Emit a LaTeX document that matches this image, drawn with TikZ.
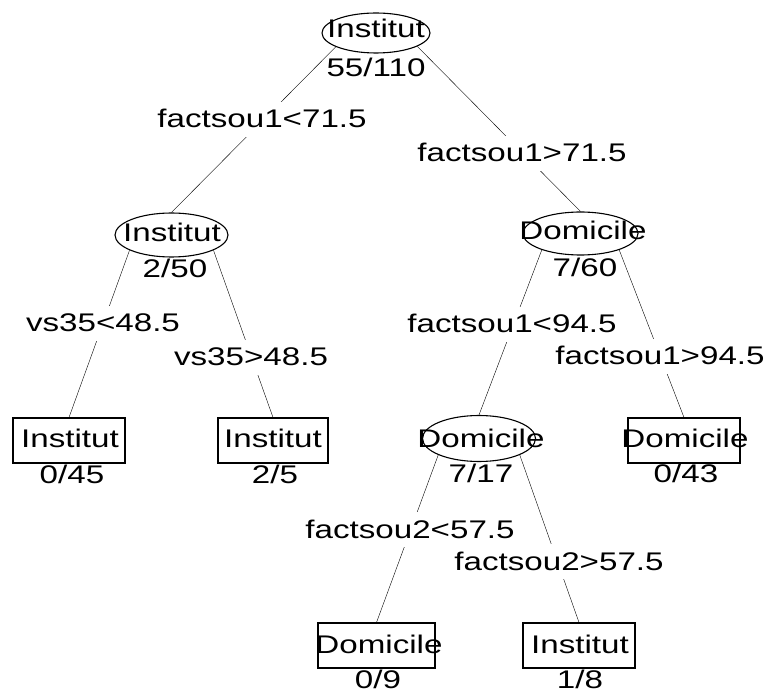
\documentclass[tikz,border=0pt]{standalone}
\usepackage{fontspec}
\setmainfont[FakeStretch=1.3]{Liberation Sans}
\usetikzlibrary{shapes.geometric}
\pgfdeclarelayer{bg}
\pgfsetlayers{bg,main}
\begin{document}
\begin{tikzpicture}[x=1pt, y=-1pt,
  font=\fontsize{25.5}{30}\selectfont,
  line width=1.1pt,
  inner/.style={ellipse, draw, fill=white, inner sep=0pt,
    minimum width=113pt, minimum height=44pt},
  leaf/.style={rectangle, draw, fill=white, inner sep=0pt,
    minimum width=112pt, minimum height=45pt},
  txt/.style={anchor=base, inner sep=0pt},
  cond/.style={anchor=base, fill=white, inner xsep=3pt, inner ysep=2pt,
    text height=24pt, text depth=7pt}]

\useasboundingbox (0,0) rectangle (771,692);

% decision nodes
\node[inner, minimum width=108pt, minimum height=40pt] (root) at (376,33) {};
\node[inner] (L)  at (171.5,235) {};
\node[inner, minimum width=115pt, minimum height=43pt] (R)  at (580.5,233.5) {};
\node[inner, minimum height=46pt] (RL) at (479,438.5) {};

% terminal nodes
\node[leaf] (LL)  at (69,440.5) {};
\node[leaf, minimum width=110pt] (LR)  at (273,440.5) {};
\node[leaf] (RR)  at (684,440.5) {};
\node[leaf, minimum width=117pt] (RLL) at (376.5,645.5) {};
\node[leaf] (RLR) at (579,645.5) {};

% branches
\begin{pgfonlayer}{bg}
  \fill[white] (0,0) rectangle (771,692);
  \draw (root.199) -- (L.north);
  \draw (root.342) -- (R.north);
  \draw (L.200) -- (LL.north);
  \draw (L.340) -- (LR.north);
  \draw (R.203) -- (RL.north);
  \draw (R.337) -- (RR.north);
  \draw (RL.202) -- (RLL.north);
  \draw (RL.338) -- (RLR.north);
\end{pgfonlayer}

% split conditions
\node[cond] (c1) at (262,128) {factsou1<71.5};
\node[cond] (c2) at (522,162) {factsou1>71.5};
\node[cond] (c3) at (103,332) {vs35<48.5};
\node[cond] (c4) at (251,366) {vs35>48.5};
\node[cond] (c5) at (512,333) {factsou1<94.5};
\node[cond] (c6) at (660,365) {factsou1>94.5};
\node[cond] (c7) at (410,538) {factsou2<57.5};
\node[cond] (c8) at (559,570) {factsou2>57.5};

% class labels and counts
\node[txt] (tRoot) at (376,38) {Institut};
\node[txt] (nRoot) at (376,77) {55/110};
\node[txt] (tL) at (172,242) {Institut};
\node[txt] (nL) at (175,278) {2/50};
\node[txt] (tR) at (583,240) {Domicile};
\node[txt] (nR) at (585,277) {7/60};
\node[txt] (tLL) at (70,447) {Institut};
\node[txt] (nLL) at (72,483) {0/45};
\node[txt] (tLR) at (273,447) {Institut};
\node[txt] (nLR) at (275,483) {2/5};
\node[txt] (tRL) at (481,447) {Domicile};
\node[txt] (nRL) at (481,482) {7/17};
\node[txt] (tRR) at (685,447) {Domicile};
\node[txt] (nRR) at (686,482) {0/43};
\node[txt] (tRLL) at (379,653) {Domicile};
\node[txt] (nRLL) at (378,688) {0/9};
\node[txt] (tRLR) at (580,653) {Institut};
\node[txt] (nRLR) at (580,688) {1/8};
\end{tikzpicture}
\end{document}
